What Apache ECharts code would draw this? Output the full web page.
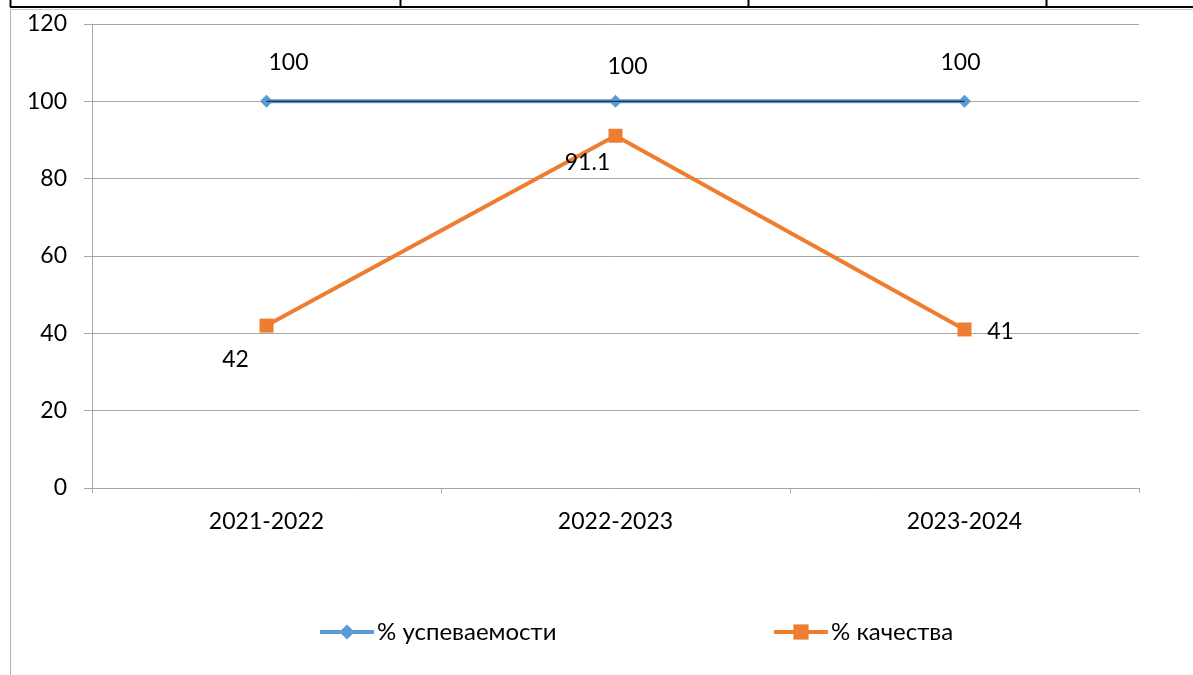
<!DOCTYPE html>
<html>
<head>
<meta charset="utf-8">
<script src="https://cdn.jsdelivr.net/npm/echarts@6/dist/echarts.min.js"></script>
<style>html,body{margin:0;padding:0;background:#fff;}#c{width:1193px;height:675px;}</style>
</head>
<body>
<div id="c"></div>
<script>
const categories = ['2021-2022', '2022-2023', '2023-2024'];
const seriesNames = ['% успеваемости', '% качества'];
const successRate = [100, 100, 100];
const qualityRate = [42, 91.1, 41];
const yTicks = { min: 0, max: 120, interval: 20 };

const FONT = 'Lato, "Noto Sans", sans-serif';
const FS = 23;
const chart = echarts.init(document.getElementById('c'));

const blueOffsets = [[22, -39], [12, -35], [-4, -39]];
const orangeOffsets = [[-31, 34], [-28, 27], [36, 2]];

function withLabels(values, offsets) {
  return values.map((v, i) => ({
    value: v,
    label: { show: true, position: 'inside', offset: offsets[i] }
  }));
}

const labelStyle = { color: '#000', fontSize: FS, fontFamily: FONT, align: 'center', verticalAlign: 'middle' };

function vline(x, y1, y2, color, w) {
  return { type: 'line', shape: { x1: x, y1: y1, x2: x, y2: y2 }, style: { stroke: color, lineWidth: w }, silent: true };
}
function hline(y, x1, x2, color, w) {
  return { type: 'line', shape: { x1: x1, y1: y, x2: x2, y2: y }, style: { stroke: color, lineWidth: w }, silent: true };
}

const legendCommon = {
  top: 615, itemWidth: 54, itemHeight: 19, itemGap: 4,
  lineStyle: { width: 4 },
  textStyle: { color: '#000', fontSize: 24, fontFamily: FONT, padding: [0, 0, 0, -2] }
};

chart.setOption({
  backgroundColor: '#fff',
  animation: false,
  textStyle: { fontFamily: FONT },
  graphic: [
    hline(7, 10, 1193, '#000', 2),
    vline(10.5, 0, 7, '#000', 2),
    vline(400.5, 0, 7, '#000', 2),
    vline(748.5, 0, 7, '#000', 2),
    vline(1046.5, 0, 7, '#000', 2),
    hline(9.5, 10, 1193, '#c8c8c8', 1),
    vline(10.5, 9, 675, '#b0b0b0', 1)
  ],
  grid: { left: 92, right: 54, top: 24, bottom: 187, containLabel: false },
  legend: [
    Object.assign({ data: [seriesNames[0]], left: 313 }, legendCommon),
    Object.assign({ data: [seriesNames[1]], left: 767 }, legendCommon)
  ],
  xAxis: {
    type: 'category',
    data: categories,
    boundaryGap: true,
    axisLine: { show: true, lineStyle: { color: '#a6a6a6', width: 1 } },
    axisTick: { show: true, length: 5, lineStyle: { color: '#a6a6a6' } },
    axisLabel: { color: '#000', fontSize: FS, fontFamily: FONT, margin: 22 },
    splitLine: { show: false }
  },
  yAxis: {
    type: 'value',
    min: yTicks.min, max: yTicks.max, interval: yTicks.interval,
    axisLine: { show: true, lineStyle: { color: '#a6a6a6', width: 1 } },
    axisTick: { show: true, length: 8, lineStyle: { color: '#a6a6a6' } },
    axisLabel: { color: '#000', fontSize: FS, fontFamily: FONT, margin: 25 },
    splitLine: { show: true, lineStyle: { color: '#a6a6a6', width: 1 } }
  },
  series: [
    {
      name: seriesNames[0],
      type: 'line',
      data: withLabels(successRate, blueOffsets),
      symbol: 'diamond',
      symbolSize: 13,
      color: '#5B9BD5',
      lineStyle: { color: '#5B9BD5', width: 4 },
      itemStyle: { color: '#5B9BD5' },
      label: labelStyle,
      z: 3
    },
    {
      name: '_core',
      type: 'line',
      data: successRate,
      symbol: 'none',
      lineStyle: { color: '#1d2f45', width: 1.2 },
      silent: true,
      z: 4
    },
    {
      name: seriesNames[1],
      type: 'line',
      data: withLabels(qualityRate, orangeOffsets),
      symbol: 'rect',
      symbolSize: 14,
      color: '#ED7D31',
      lineStyle: { color: '#ED7D31', width: 4 },
      itemStyle: { color: '#ED7D31' },
      label: labelStyle,
      z: 5
    }
  ]
});
</script>
</body>
</html>
